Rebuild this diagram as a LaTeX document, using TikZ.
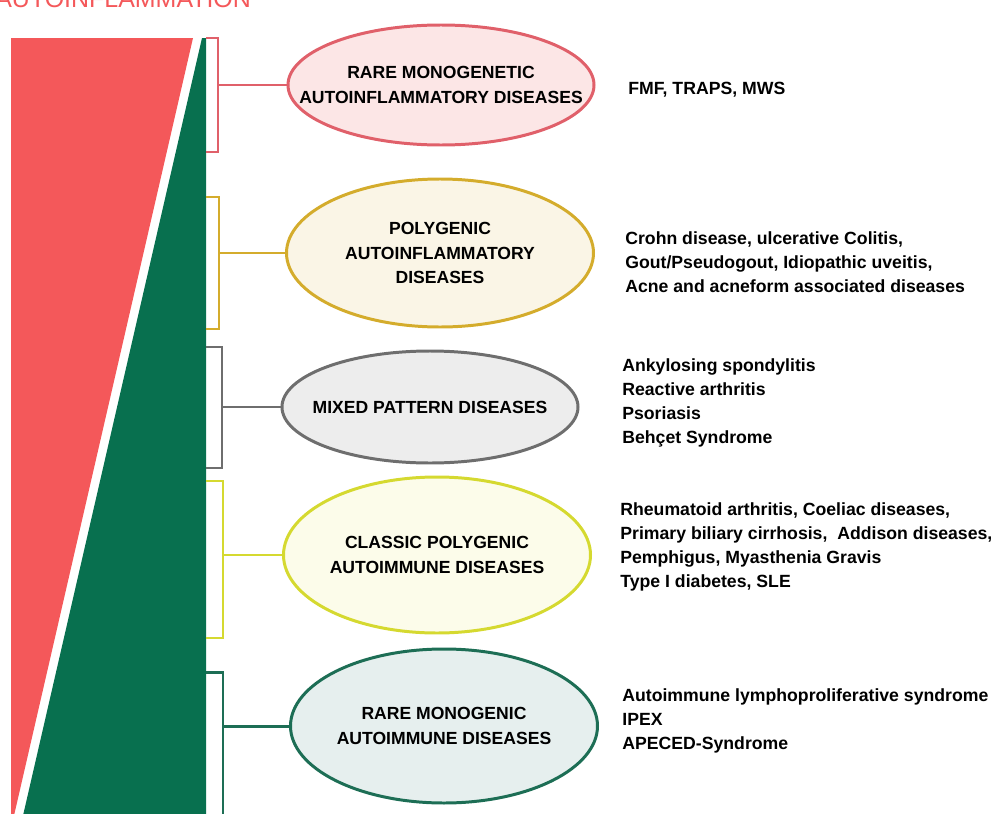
\documentclass[tikz,border=0pt]{standalone}
\usepackage{fontspec}
\setmainfont{Liberation Sans}
\usetikzlibrary{shapes.geometric}
\definecolor{barred}{HTML}{F4585A}
\definecolor{bargreen}{HTML}{08704F}
\definecolor{linered}{HTML}{E0606A}
\definecolor{fillred}{HTML}{FCE6E6}
\definecolor{linegold}{HTML}{D4AC2C}
\definecolor{fillgold}{HTML}{FAF5E6}
\definecolor{linegray}{HTML}{6E6E6E}
\definecolor{fillgray}{HTML}{EDEDED}
\definecolor{lineyellow}{HTML}{D5D930}
\definecolor{fillyellow}{HTML}{FCFCEA}
\definecolor{linegreen}{HTML}{1D6E55}
\definecolor{fillgreen}{HTML}{E6EFEE}
\tikzset{
    group/.style={
        ellipse, draw=#1, line width=1.7pt, inner xsep=-1cm, inner ysep=-0.5cm,
        align=center, font=\fontsize{10}{14}\selectfont\bfseries
    },
    bracket/.style={draw=#1, line width=1.7pt},
    examples/.style={
        anchor=west, align=left, inner sep=0pt,
        font=\fontsize{10.05}{13.7}\selectfont\bfseries
    }
}

\begin{document}
\begin{tikzpicture}
    \useasboundingbox (0,0) rectangle (19.94,-16.28);
    \clip (0,0) rectangle (19.94,-16.28);

    \node[anchor=base west, inner sep=0pt, text=barred, font=\fontsize{14.2}{14}\selectfont] (TITLE) at (-0.1,-0.14) {AUTOINFLAMMATION};

    \fill[barred] (0.22,-0.76) -- (3.86,-0.76) -- (0.26,-16.4) -- (0.22,-16.4) -- cycle;
    \fill[bargreen] (4.04,-0.76) -- (4.12,-0.76) -- (4.12,-16.4) -- (0.44,-16.4) -- cycle;

    \node[group=linered, fill=fillred, minimum width=6.12cm, minimum height=2.40cm] (RARE) at (8.82,-1.70) {RARE MONOGENETIC\\AUTOINFLAMMATORY DISEASES};
    \node[group=linegold, fill=fillgold, minimum width=6.14cm, minimum height=2.96cm] (POLY) at (8.80,-5.06) {POLYGENIC\\AUTOINFLAMMATORY\\DISEASES};
    \node[group=linegray, fill=fillgray, minimum width=5.92cm, minimum height=2.24cm] (MIXED) at (8.60,-8.14) {MIXED PATTERN DISEASES};
    \node[group=lineyellow, fill=fillyellow, minimum width=6.14cm, minimum height=3.12cm] (CLASSIC) at (8.74,-11.10) {CLASSIC POLYGENIC\\AUTOIMMUNE DISEASES};
    \node[group=linegreen, fill=fillgreen, minimum width=6.14cm, minimum height=3.08cm] (MONO) at (8.88,-14.52) {RARE MONOGENIC\\AUTOIMMUNE DISEASES};

    \draw[bracket=linered] (4.12,-0.76) -- (4.36,-0.76) -- (4.36,-3.04) -- (4.12,-3.04);
    \draw[bracket=linegold] (4.12,-3.94) -- (4.38,-3.94) -- (4.38,-6.58) -- (4.12,-6.58);
    \draw[bracket=linegray] (4.12,-6.94) -- (4.44,-6.94) -- (4.44,-9.36) -- (4.12,-9.36);
    \draw[bracket=lineyellow] (4.12,-9.62) -- (4.46,-9.62) -- (4.46,-12.76) -- (4.12,-12.76);
    \draw[bracket=linegreen] (4.12,-13.44) -- (4.46,-13.44) -- (4.46,-16.5);

    \coordinate (B1) at (4.36,-1.70);
    \coordinate (B2) at (4.38,-5.06);
    \coordinate (B3) at (4.44,-8.14);
    \coordinate (B4) at (4.46,-11.10);
    \coordinate (B5) at (4.46,-14.52);

    \draw[bracket=linered] (B1) -- (RARE.west);
    \draw[bracket=linegold] (B2) -- (POLY.west);
    \draw[bracket=linegray] (B3) -- (MIXED.west);
    \draw[bracket=lineyellow] (B4) -- (CLASSIC.west);
    \draw[bracket=linegreen] (B5) -- (MONO.west);

    \node[examples] (EX1) at (12.56,-1.80) {FMF, TRAPS, MWS};
    \node[examples] (EX2) at (12.50,-5.24) {Crohn disease, ulcerative Colitis,\\Gout/Pseudogout, Idiopathic uveitis,\\Acne and acneform associated diseases};
    \node[examples] (EX3) at (12.44,-8.06) {Ankylosing spondylitis\\Reactive arthritis\\Psoriasis\\Behçet Syndrome};
    \node[examples] (EX4) at (12.40,-10.94) {Rheumatoid arthritis, Coeliac diseases,\\Primary biliary cirrhosis,\ \ Addison diseases,\\Pemphigus, Myasthenia Gravis\\Type I diabetes, SLE};
    \node[examples] (EX5) at (12.44,-14.42) {Autoimmune lymphoproliferative syndrome\\IPEX\\APECED-Syndrome};
\end{tikzpicture}
\end{document}
